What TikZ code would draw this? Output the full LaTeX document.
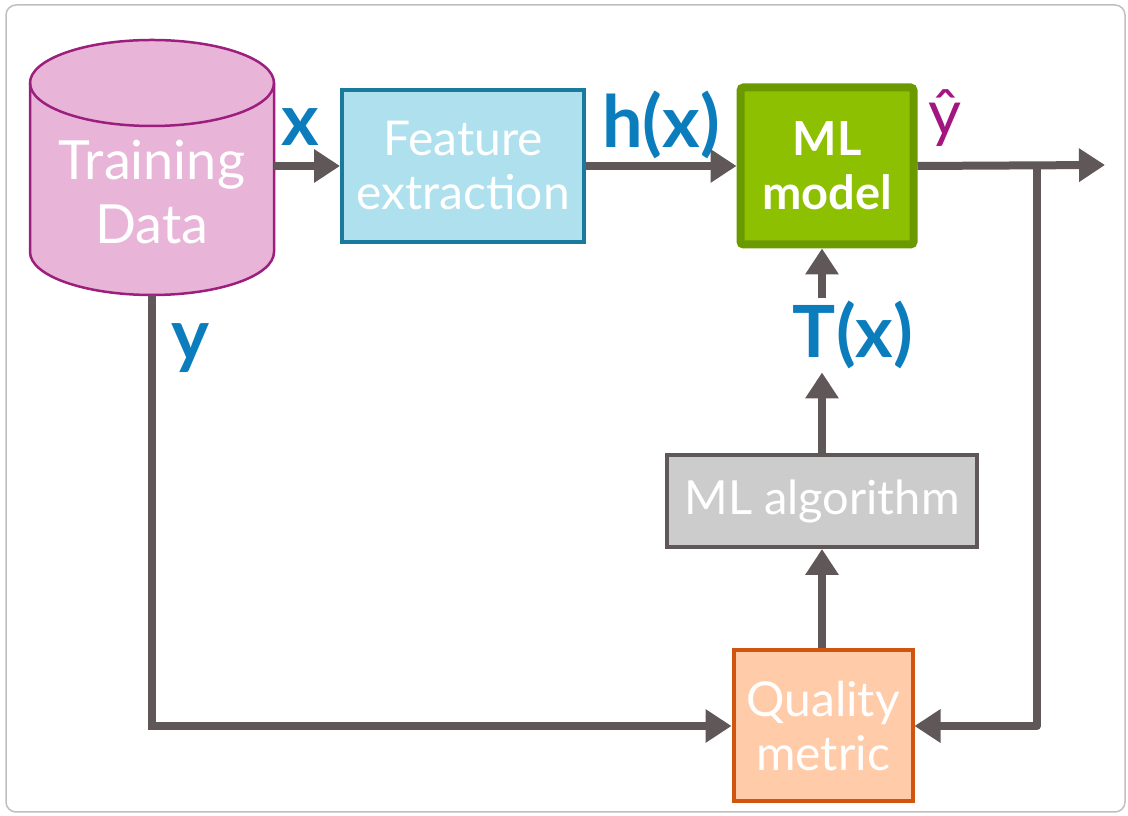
\documentclass[tikz,border=0pt]{standalone}
\usepackage{fontspec}
\setmainfont{Lato}
\usetikzlibrary{arrows.meta}
\definecolor{arrowgray}{HTML}{5F5758}
\definecolor{datafill}{HTML}{E8B4D8}
\definecolor{dataline}{HTML}{9C1F7E}
\definecolor{featfill}{HTML}{AEE0EE}
\definecolor{featline}{HTML}{1A7A9E}
\definecolor{modelfill}{HTML}{8DC000}
\definecolor{modelline}{HTML}{6B9A00}
\definecolor{algofill}{HTML}{CDCCCC}
\definecolor{qualfill}{HTML}{FFCBA8}
\definecolor{qualline}{HTML}{CF5510}
\definecolor{varblue}{HTML}{0B7DBD}
\definecolor{hatmag}{HTML}{A3157F}

\begin{document}
\begin{tikzpicture}[x=1pt,y=1pt,>={Triangle[length=26pt,width=32pt]},
  flow/.style={->,line width=8pt,arrowgray},
  block/.style={draw,line width=4pt,text=white,align=center,inner sep=0pt,
    font=\fontsize{48}{54}\selectfont},
  var/.style={text=varblue,font=\bfseries\fontsize{72}{74}\selectfont}]
\useasboundingbox (0,0) rectangle (1128,816);
\draw[gray!50,line width=1.5pt,rounded corners=10pt] (6,4) rectangle (1125,811);

% training data cylinder
\fill[datafill] (30,564) -- (30,733) arc[start angle=180,end angle=0,x radius=122,y radius=43]
  -- (274,564) arc[start angle=0,end angle=-180,x radius=122,y radius=43] -- cycle;
\draw[dataline,line width=2.5pt] (30,564) -- (30,733) arc[start angle=180,end angle=0,x radius=122,y radius=43]
  -- (274,564) arc[start angle=0,end angle=-180,x radius=122,y radius=43] -- cycle;
\draw[dataline,line width=2.5pt] (30,733) arc[start angle=180,end angle=360,x radius=122,y radius=43];
\node[minimum width=244,minimum height=258] (data) at (152,650) {};
\node[text=white,align=center,font=\fontsize{54}{64}\selectfont] (datatext) at (152,624) {Training\\Data};

% blocks
\node[block,draw=featline,fill=featfill,minimum width=242,minimum height=152] (feature) at (463,650) {Feature\\extraction};
\node[block,draw=modelline,fill=modelfill,line width=8pt,rounded corners=3pt,minimum width=173,minimum height=157,
  font=\bfseries\fontsize{47}{54}\selectfont] (model) at (827,650) {ML\\model};
\node[block,draw=arrowgray,fill=algofill,minimum width=310,minimum height=92,font=\fontsize{47}{54}\selectfont] (algo) at (822,315) {ML algorithm};
\node[block,draw=qualline,fill=qualfill,minimum width=179,minimum height=151] (quality) at (823,90) {Quality\\metric};

% labels
\node[var] (xlab) at (300,689) {x};
\node[var] (hlab) at (661,691) {h(x)};
\node[text=hatmag,font=\fontsize{64}{66}\selectfont] (yhat) at (945,698) {ŷ};
\node[var] (Tx) at (853,481) {T(x)};
\node[var] (ylab) at (190,468) {y};

\coordinate (out) at (1105,651);
\coordinate (split) at (1037,651);

% connectors
\draw[flow] (data) -- (feature);
\draw[flow] (feature) -- (model);
\draw[flow] (model.east) -- (out);
\draw[flow,line join=round] (split) |- (quality);
\draw[flow] (data) |- (quality);
\draw[flow] (quality.north -| algo.south) -- (algo.south);
\draw[flow] (algo.north) -- (algo.north |- Tx.south);
\draw[flow] (algo.north |- Tx.north) -- (algo.north |- model.south);
\end{tikzpicture}
\end{document}
